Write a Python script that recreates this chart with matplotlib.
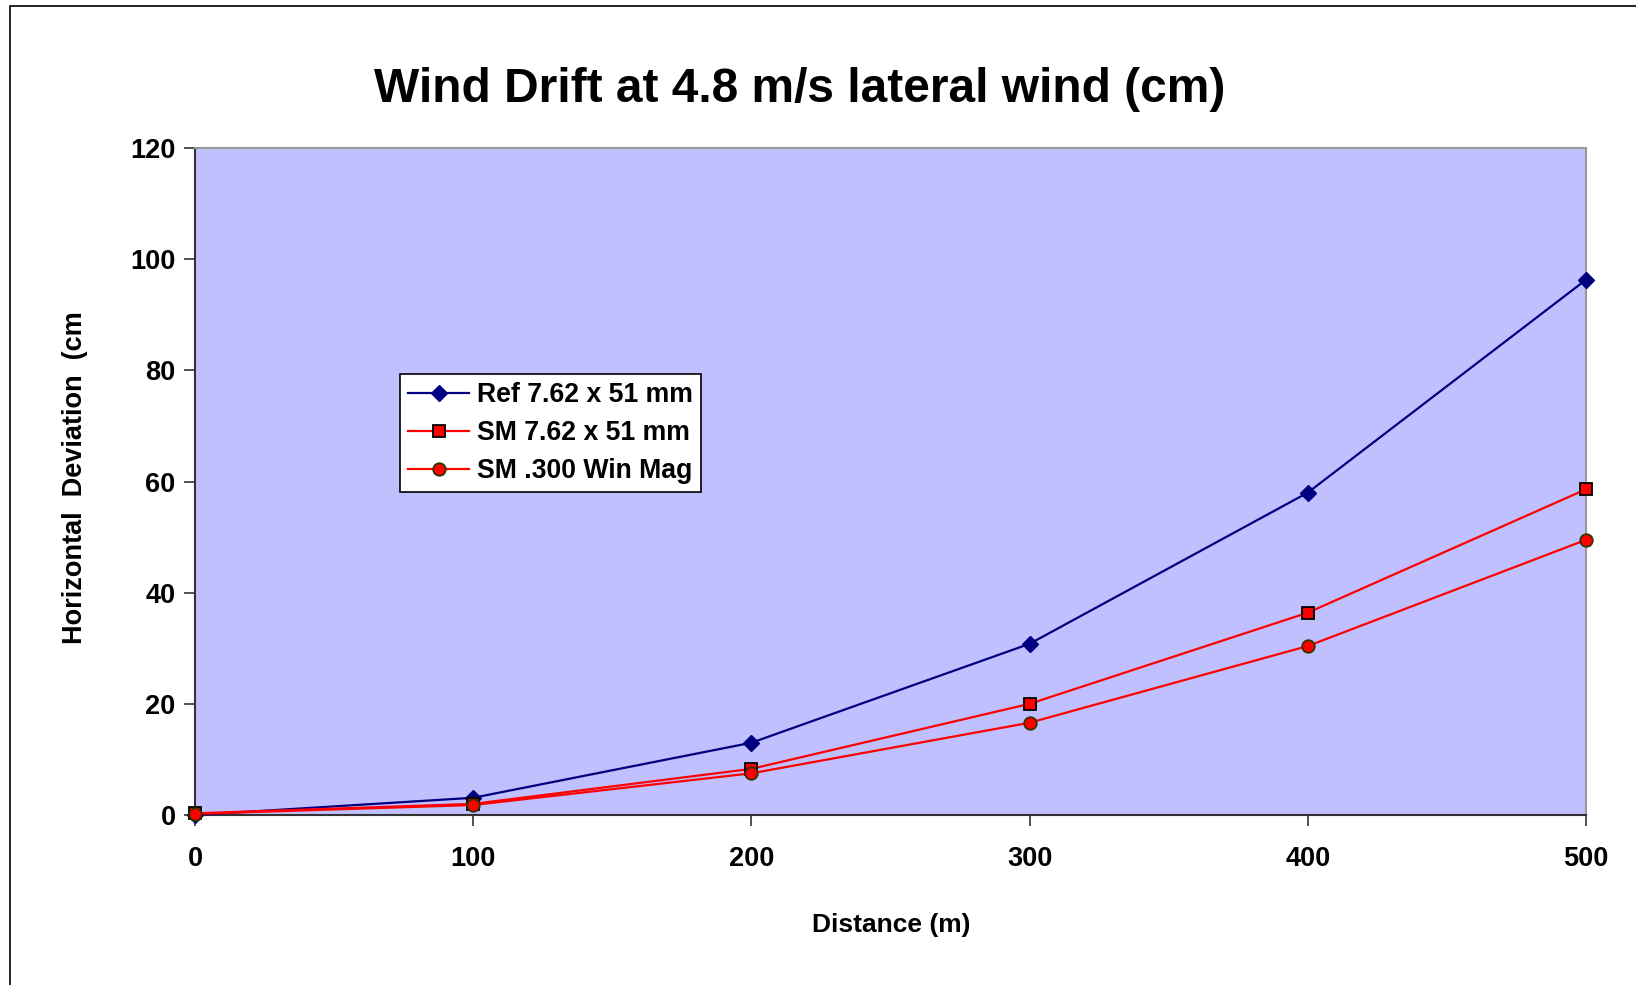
import matplotlib.pyplot as plt
from matplotlib.patches import Rectangle

# data
distance = [0, 100, 200, 300, 400, 500]
ref_762 = [0.0, 3.1, 13.0, 30.8, 58.0, 96.3]
sm_762 = [0.3, 2.0, 8.3, 20.0, 36.4, 58.6]
sm_300 = [0.2, 1.8, 7.5, 16.6, 30.4, 49.5]
labels = ['Ref 7.62 x 51 mm', 'SM 7.62 x 51 mm', 'SM .300 Win Mag']

plt.rcParams['font.family'] = ['Liberation Sans', 'DejaVu Sans']
plt.rcParams['font.weight'] = 'bold'

fig = plt.figure(figsize=(16.36, 9.85), dpi=100)
ax = fig.add_axes([195/1636, 1 - 815/985, (1586-195)/1636, (815-148)/985])
ax.set_facecolor('#C0C0FF')

ax.plot(distance, ref_762, color='#000080', lw=1.6, marker='D', ms=8,
        mfc='#000080', mec='#000080', label=labels[0], clip_on=False, zorder=3)
ax.plot(distance, sm_762, color='#FF0000', lw=1.6, marker='s', ms=9,
        mfc='#FF0000', mec='#000000', mew=1.3, label=labels[1], clip_on=False, zorder=3)
ax.plot(distance, sm_300, color='#FF0000', lw=1.6, marker='o', ms=9,
        mfc='#FF0000', mec='#333300', mew=1.3, label=labels[2], clip_on=False, zorder=3)

ax.set_xlim(0, 500)
ax.set_ylim(0, 120)
ax.set_xticks(distance)
ax.set_yticks(range(0, 121, 20))
ax.tick_params(axis='both', direction='out', length=8, width=1.2, color='#333333',
               labelsize=19.5, pad=6)
for lab in ax.get_xticklabels() + ax.get_yticklabels():
    lab.set_fontweight('bold')
ax.tick_params(axis='x', pad=14)

ax.spines['left'].set_color('#333333')
ax.spines['bottom'].set_color('#333333')
ax.spines['left'].set_linewidth(1.5)
ax.spines['bottom'].set_linewidth(1.5)
ax.spines['top'].set_color('#999999')
ax.spines['right'].set_color('#999999')
ax.spines['top'].set_linewidth(1.5)
ax.spines['right'].set_linewidth(1.5)

fig.text(800/1636, 1 - 90/985, 'Wind Drift at 4.8 m/s lateral wind (cm)',
         ha='center', va='center', fontsize=34.5, fontweight='bold')
fig.text(891/1636, 1 - 925/985, 'Distance (m)', ha='center', va='center',
         fontsize=19, fontweight='bold')
fig.text(75/1636, 1 - 478/985, 'Horizontal  Deviation  (cm', ha='center', va='center',
         rotation=90, fontsize=19.5, fontweight='bold')

leg = ax.legend(loc='upper left', bbox_to_anchor=((400-195)/(1586-195), (815-374)/(815-148)),
                fontsize=19.2, frameon=True, fancybox=False, borderpad=0.3,
                labelspacing=0.45, handlelength=2.3, handletextpad=0.3,
                borderaxespad=0)
leg.get_frame().set_edgecolor('#000000')
leg.get_frame().set_linewidth(1.2)
leg.get_frame().set_facecolor('white')
leg.get_frame().set_alpha(1)
for t in leg.get_texts():
    t.set_fontweight('bold')

# outer chart border
fig.patches.append(Rectangle((10/1636, -0.05), 1.1, 1 - 6/985 + 0.05,
                             transform=fig.transFigure, fill=False,
                             edgecolor='black', lw=1.2))

fig.savefig('out.png', dpi=100)
